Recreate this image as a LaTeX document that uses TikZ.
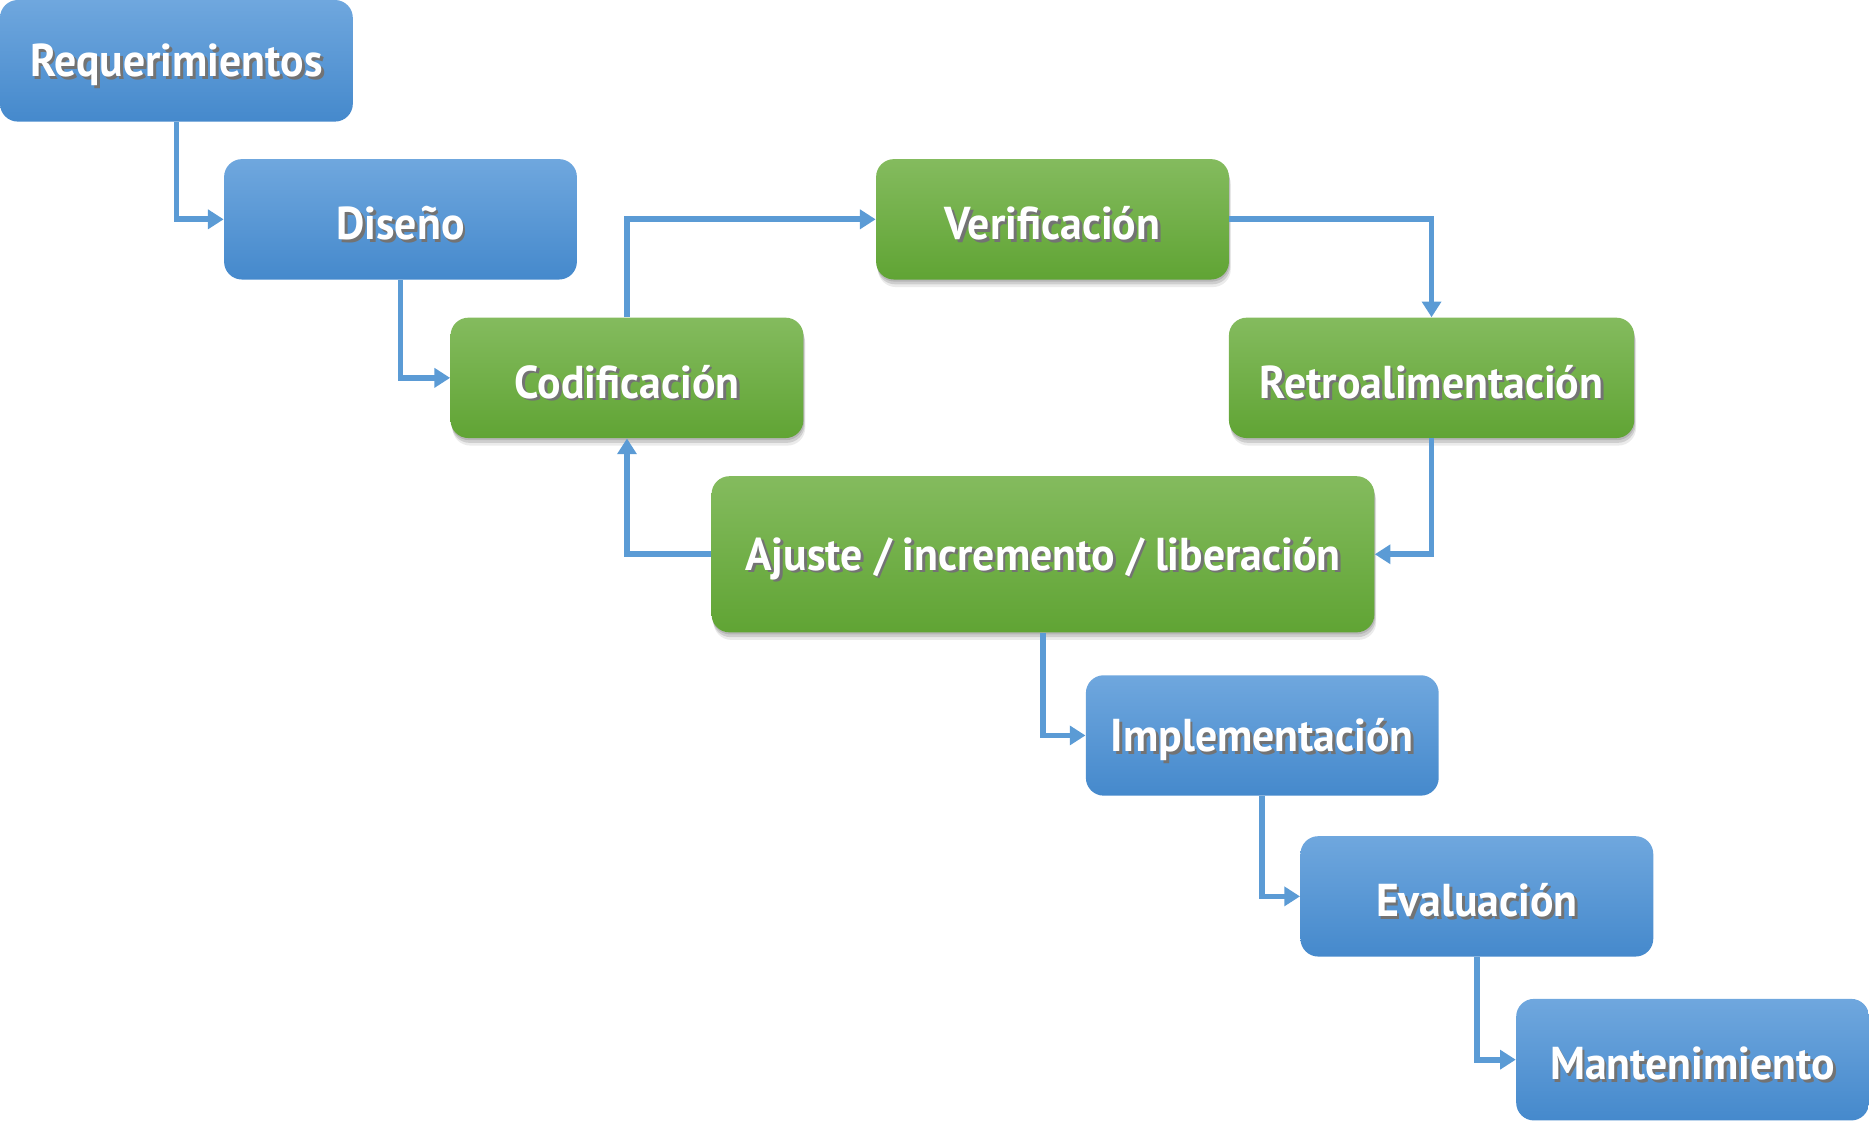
\documentclass[tikz,border=0pt]{standalone}
\usepackage{fontspec}
\setmainfont{PT Sans}[FakeStretch=0.95]
\usetikzlibrary{arrows.meta,shadows}
\definecolor{lineblue}{HTML}{5B9BD5}
\definecolor{bluetop}{HTML}{6FA7DE}
\definecolor{bluebot}{HTML}{4589CC}
\definecolor{greentop}{HTML}{84BB5E}
\definecolor{greenbot}{HTML}{60A434}
\newcommand\shtxt[1]{\raisebox{-2.6pt}[\height][\depth]{\makebox[0pt][l]{\kern1.3pt\raisebox{-1.3pt}{\textcolor{black!55}{#1}}}\textcolor{white}{#1}}}
\tikzset{
  box/.style={rounded corners=8.5pt, inner sep=0pt, font=\fontsize{22}{26}\selectfont\bfseries, text=white},
  bluebox/.style={box, top color=bluetop, bottom color=bluebot, draw=none},
  greenbox/.style={box, top color=greentop, bottom color=greenbot, draw=none,
     drop shadow={shadow xshift=0.3pt, shadow yshift=-1pt, opacity=0.12, fill=black},
     drop shadow={shadow xshift=0.6pt, shadow yshift=-2.3pt, opacity=0.12, fill=black},
     drop shadow={shadow xshift=0.9pt, shadow yshift=-3.6pt, opacity=0.08, fill=black}},
  conn/.style={draw=lineblue, line width=2.7pt, -{Triangle[length=7.5pt,width=9pt]}},
}
\begin{document}
\begin{tikzpicture}[x=0.02cm,y=-0.02cm]
\useasboundingbox (0,0) rectangle (1568,940);
\node[bluebox, minimum width=296*0.02cm, minimum height=102*0.02cm] (req) at (148,51) {\shtxt{Requerimientos}};
\node[bluebox, minimum width=296*0.02cm, minimum height=101*0.02cm] (dis) at (336,184) {\shtxt{Diseño}};
\node[greenbox, minimum width=296*0.02cm, minimum height=101*0.02cm] (cod) at (526,317) {\shtxt{Codificación}};
\node[greenbox, minimum width=296*0.02cm, minimum height=101*0.02cm] (ver) at (883,184) {\shtxt{Verificación}};
\node[greenbox, minimum width=340*0.02cm, minimum height=101*0.02cm] (ret) at (1201,317) {\shtxt{Retroalimentación}};
\node[greenbox, minimum width=556*0.02cm, minimum height=131*0.02cm] (aju) at (875,465) {\shtxt{Ajuste / incremento / liberación}};
\node[bluebox, minimum width=296*0.02cm, minimum height=101*0.02cm] (imp) at (1059,617) {\shtxt{Implementación}};
\node[bluebox, minimum width=296*0.02cm, minimum height=101*0.02cm] (eva) at (1239,752) {\shtxt{Evaluación}};
\node[bluebox, minimum width=296*0.02cm, minimum height=102*0.02cm] (man) at (1420,889) {\shtxt{Mantenimiento}};
\draw[conn] (req.south) |- (dis.west);
\draw[conn] (dis.south) |- (cod.west);
\draw[conn] (cod.north) |- (ver.west);
\draw[conn] (ver.east) -| (ret.north);
\draw[conn] (ret.south) |- (aju.east);
\draw[conn] (aju.west) -| (cod.south);
\draw[conn] (aju.south) |- (imp.west);
\draw[conn] (imp.south) |- (eva.west);
\draw[conn] (eva.south) |- (man.west);
\end{tikzpicture}
\end{document}
